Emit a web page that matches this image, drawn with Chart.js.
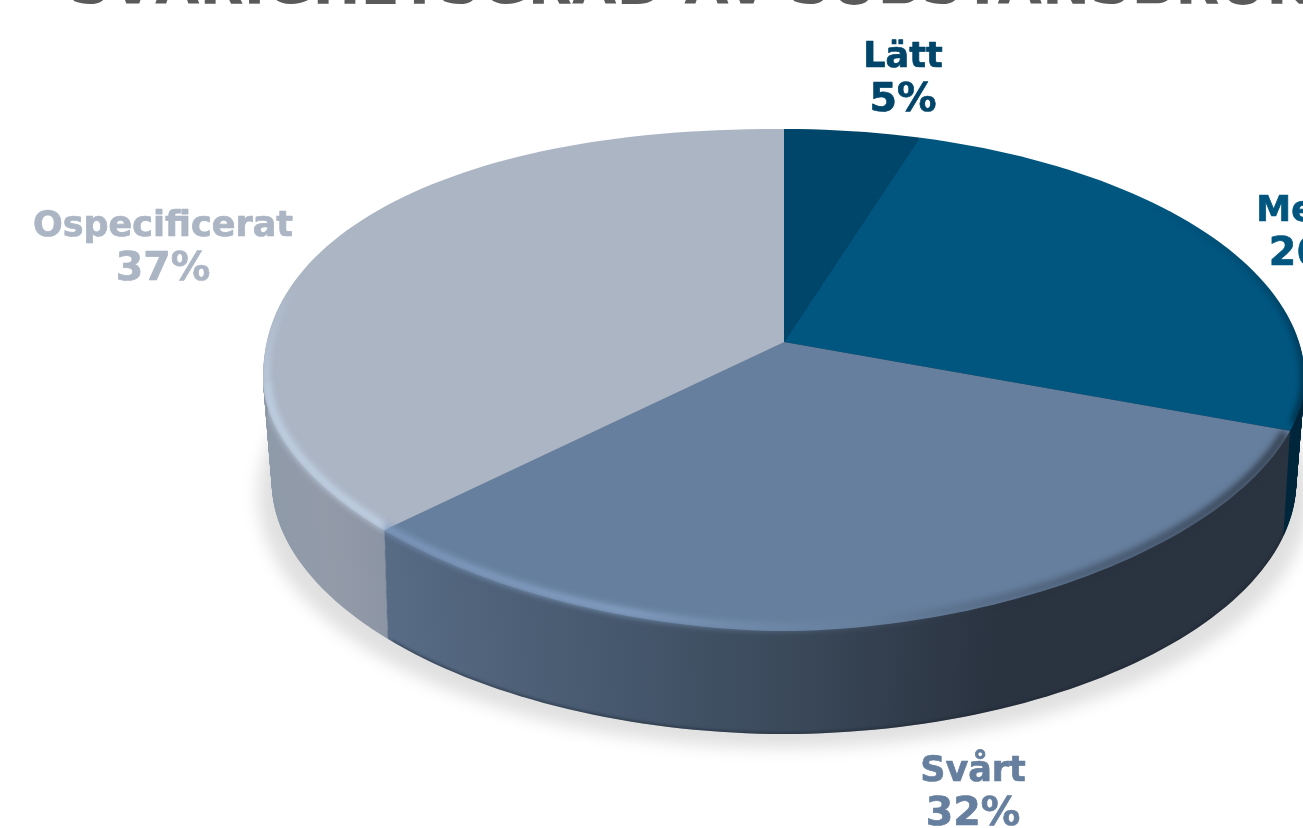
<!DOCTYPE html>
<html>
<head>
<meta charset="utf-8">
<style>
html, body { margin: 0; height: 100%; background: #fff; overflow: hidden; }
#chart { position: absolute; left: 0; }
</style>
</head>
<body>
<canvas id="chart" width="1380" height="900"></canvas>
<script src="https://cdn.jsdelivr.net/npm/chart.js@4"></script>
<script>
const titleText = "SVÅRIGHETSGRAD AV SUBSTANSBRUK";
const categories = ["Lätt", "Medel", "Svårt", "Ospecificerat"];
const shares = [5, 26, 32, 37];
const sliceColors = ["#00456a", "#00567f", "#667f9e", "#abb5c4"];
const labelCenters = [[903, 76], [1316, 230], [973, 790], [163, 245]];

// Projection of the flat pie onto the page (canvas is shifted up so the title gets cut)
const canvasTop = -45;
const apexX = 784, apexY = 342 - canvasTop;
const rimY = 380 - canvasTop, rimRx = 521, rimRy = 251;
const squash = 0.4836, shear = -0.016, depth = 103;
const bigRadius = 800;

document.getElementById("chart").style.top = canvasTop + "px";

const rxAt = k => rimRx - k * 0.085;

// Rim outline: not quite an ellipse, the 3D pie is a bit fuller behind on the left
const rimPoint = (t, k, inset = 0) => {
    const c = Math.cos(t), s = Math.sin(t);
    const p = s > 0 ? 1.85 + k * 0.001 : (c < 0 ? 2.2 : 2);
    return [
        apexX + (rxAt(k) - inset) * Math.sign(c) * Math.pow(Math.abs(c), 2 / p),
        rimY + k + (rimRy - inset) * Math.sign(s) * Math.pow(Math.abs(s), 2 / p)
    ];
};

const rimPath = (ctx, k, from = 0, to = Math.PI * 2, inset = 0) => {
    for (let i = 0; i <= 240; i++) {
        const [x, y] = rimPoint(from + (to - from) * i / 240, k, inset);
        if (i === 0) ctx.moveTo(x, y); else ctx.lineTo(x, y);
    }
};

// Puts the chart's own arcs in the tilted view, k pixels down the wall
const tilt = (ctx, arc, k) => {
    const s = bigRadius / arc.outerRadius;
    ctx.transform(s * (1 - k * 0.00036), s * shear, 0, s * squash, apexX, apexY + k);
    ctx.translate(-arc.x, -arc.y);
};

const wallGradient = (ctx, arc, stops) => {
    const s = bigRadius / arc.outerRadius;
    const toChart = x => arc.x + (x - apexX) / s;
    const g = ctx.createLinearGradient(toChart(250), 0, toChart(1310), 0);
    stops.forEach(([x, c]) => g.addColorStop((x - 250) / 1060, c));
    return g;
};

const pie3d = {
    id: "pie3d",
    beforeDatasetsDraw(chart) {
        const ctx = chart.ctx;
        const arcs = chart.getDatasetMeta(0).data;

        // soft shadow on the ground
        ctx.save();
        ctx.filter = "blur(8px)";
        ctx.fillStyle = "rgba(0,0,0,0.12)";
        ctx.beginPath();
        ctx.ellipse(apexX, rimY + depth + 12, rimRx + 5, rimRy + 2, 0, 0, Math.PI * 2);
        ctx.fill();
        ctx.restore();

        // wall: the same arcs again, stepped down one pixel at a time
        const walls = [
            [[250, "#00263c"], [1310, "#00263c"]],
            [[250, "#00263c"], [1310, "#00263c"]],
            [[250, "#5a6f89"], [388, "#576b85"], [500, "#4e6178"], [640, "#44566b"], [800, "#3a4859"], [1000, "#2a3340"], [1310, "#2a3340"]],
            [[250, "#8e9aa9"], [320, "#939ba9"], [388, "#8b94a3"], [1310, "#8b94a3"]]
        ].map(stops => wallGradient(ctx, arcs[0], stops));
        for (let k = depth; k > 0; k--) {
            ctx.save();
            ctx.beginPath();
            rimPath(ctx, k);
            ctx.clip();
            tilt(ctx, arcs[0], k);
            arcs.forEach((arc, i) => {
                const own = arc.options;
                arc.options = Object.assign({}, own, { backgroundColor: walls[i] });
                arc.draw(ctx);
                arc.options = own;
            });
            ctx.restore();
        }

        // top face, drawn by the library between these two hooks
        ctx.save();
        ctx.beginPath();
        rimPath(ctx, 0);
        ctx.clip();
        tilt(ctx, arcs[0], 0);
    },
    afterDatasetsDraw(chart) {
        const ctx = chart.ctx;
        ctx.restore();

        // pie silhouette, keeps the bevel off the background
        ctx.save();
        ctx.beginPath();
        rimPath(ctx, 0);
        rimPath(ctx, depth);
        ctx.rect(apexX - rimRx + 5, rimY, rimRx * 2 - 10, depth);
        ctx.clip();

        // highlight along the front, fading to shade on the right
        ctx.filter = "blur(3px)";
        ctx.lineWidth = 8;
        const front = ctx.createLinearGradient(250, 0, 1310, 0);
        const stop = (x, c) => front.addColorStop((x - 250) / 1060, c);
        stop(250, "rgba(193,210,230,0.9)");
        stop(384, "rgba(193,210,230,0.9)");
        stop(386, "rgba(130,158,195,0.75)");
        stop(620, "rgba(140,168,205,0.8)");
        stop(860, "rgba(110,135,165,0.3)");
        stop(1000, "rgba(42,51,64,0.3)");
        stop(1310, "rgba(42,51,64,0.9)");
        ctx.strokeStyle = front;
        ctx.beginPath();
        rimPath(ctx, 0, 0.24, Math.PI, 4);
        ctx.stroke();

        // highlight dying out up the back on the left
        const back = ctx.createLinearGradient(0, 380 - canvasTop, 0, 280 - canvasTop);
        back.addColorStop(0, "rgba(193,210,230,0.9)");
        back.addColorStop(1, "rgba(193,210,230,0)");
        ctx.strokeStyle = back;
        ctx.lineWidth = 6;
        ctx.beginPath();
        rimPath(ctx, 0, Math.PI, Math.PI * 1.2, 3);
        ctx.stroke();

        // dark edge of the right hand slice, stronger lower down
        const edge = ctx.createLinearGradient(0, 200 - canvasTop, 0, 400 - canvasTop);
        edge.addColorStop(0, "rgba(0,28,46,0)");
        edge.addColorStop(1, "rgba(0,28,46,0.85)");
        ctx.strokeStyle = edge;
        ctx.lineWidth = 5;
        ctx.beginPath();
        rimPath(ctx, 0, -0.85, 0.2, 1);
        ctx.stroke();

        // dark foot of the wall
        ctx.filter = "blur(1.5px)";
        ctx.lineWidth = 3;
        ctx.strokeStyle = "rgba(25,32,44,0.55)";
        ctx.beginPath();
        rimPath(ctx, depth, 0.2, Math.PI * 0.78);
        ctx.stroke();
        ctx.restore();
    },
    afterDraw(chart) {
        // slice labels, percent line a little larger than the name
        const ctx = chart.ctx;
        ctx.save();
        ctx.filter = "blur(0.4px)";
        ctx.textAlign = "center";
        ctx.textBaseline = "alphabetic";
        ctx.lineWidth = 0.7;
        ctx.lineJoin = "round";
        categories.forEach((name, i) => {
            const [x, y] = labelCenters[i];
            ctx.fillStyle = ctx.strokeStyle = sliceColors[i];
            [[name, y - 9, 35], [shares[i] + "%", y + 35, 39.5]].forEach(([text, ty, size]) => {
                ctx.font = "bold " + size + "px 'DejaVu Sans'";
                ctx.fillText(text, x, ty - canvasTop);
                ctx.strokeText(text, x, ty - canvasTop);
            });
        });
        ctx.restore();
    }
};

new Chart(document.getElementById("chart"), {
    type: "pie",
    data: {
        labels: categories,
        datasets: [{
            data: shares,
            backgroundColor: sliceColors,
            borderWidth: 0
        }]
    },
    options: {
        responsive: false,
        animation: false,
        events: [],
        plugins: {
            legend: { display: false },
            tooltip: { enabled: false },
            title: {
                display: true,
                text: titleText,
                color: "#5a5a5a",
                padding: 0,
                font: { family: "'DejaVu Sans'", size: 57.5, weight: "bold" }
            }
        }
    },
    plugins: [pie3d]
});
</script>
</body>
</html>
